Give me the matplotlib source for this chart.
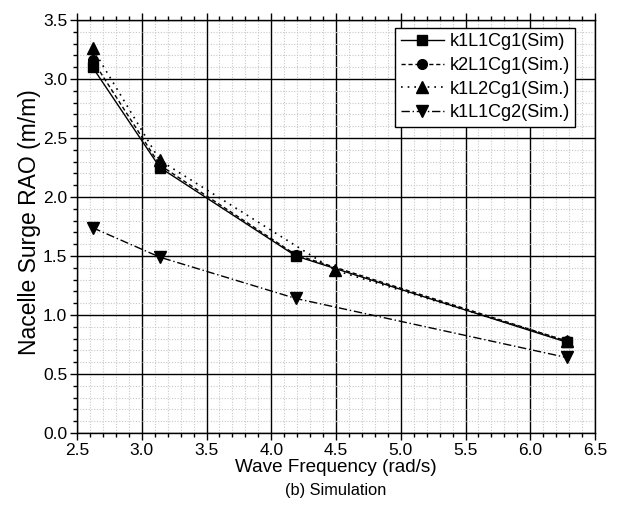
import numpy as np
import matplotlib
matplotlib.use("Agg")
import matplotlib.pyplot as plt
from matplotlib.ticker import MultipleLocator, FormatStrFormatter, FixedLocator

plt.rcParams['font.family'] = ['Liberation Sans', 'DejaVu Sans']

freq_a = [2.62, 3.14, 4.19, 6.28]
sim_k1L1Cg1 = [3.10, 2.25, 1.50, 0.77]
sim_k2L1Cg1 = [3.16, 2.27, 1.51, 0.78]
freq_b = [2.62, 3.14, 4.49, 6.28]
sim_k1L2Cg1 = [3.26, 2.31, 1.38, 0.78]
sim_k1L1Cg2 = [1.74, 1.49, 1.14, 0.64]

labels = ["k1L1Cg1(Sim)", "k2L1Cg1(Sim.)", "k1L2Cg1(Sim.)", "k1L1Cg2(Sim.)"]

W, H = 617, 522
fig = plt.figure(figsize=(W / 100, H / 100), dpi=100)
ax = fig.add_axes([77 / W, 1 - 433 / H, (595 - 77) / W, (433 - 20) / H])

ms = 7
ax.plot(freq_a, sim_k1L1Cg1, color='black', ls='-', lw=1, marker='s', ms=ms, label=labels[0])
ax.plot(freq_a, sim_k2L1Cg1, color='black', ls=(0, (3, 2)), lw=1, marker='o', ms=ms, label=labels[1])
ax.plot(freq_b, sim_k1L2Cg1, color='black', ls=(0, (1, 3)), lw=1.2, marker='^', ms=ms + 1, label=labels[2])
ax.plot(freq_a, sim_k1L1Cg2, color='black', ls=(0, (6, 2, 1, 2)), lw=1, marker='v', ms=ms + 1, label=labels[3])

ax.set_xlim(2.5, 6.5)
ax.set_ylim(0.0, 3.5)


def minor_positions(lo, hi):
    vals = np.round(np.arange(lo, hi + 1e-9, 0.1), 2)
    return [v for v in vals if abs(v / 0.5 - round(v / 0.5)) > 1e-6]


ax.xaxis.set_major_locator(MultipleLocator(0.5))
ax.xaxis.set_minor_locator(FixedLocator(minor_positions(2.5, 6.5)))
ax.yaxis.set_major_locator(MultipleLocator(0.5))
ax.yaxis.set_minor_locator(FixedLocator(minor_positions(0.0, 3.5)))
ax.xaxis.set_major_formatter(FormatStrFormatter('%.1f'))
ax.yaxis.set_major_formatter(FormatStrFormatter('%.1f'))

ax.grid(which='minor', color='#c8c8c8', lw=0.8, ls=(0, (1, 1.5)))
ax.grid(which='major', color='black', lw=1, ls='-')
ax.set_axisbelow(True)

ax.tick_params(which='both', direction='out', top=True, right=False, labelsize=12.5, width=1)
ax.tick_params(which='major', length=5, pad=2)
ax.tick_params(which='minor', length=3)
for s in ax.spines.values():
    s.set_linewidth(1)

ax.set_xlabel("Wave Frequency (rad/s)", fontsize=13.6)
ax.set_ylabel("Nacelle Surge RAO (m/m)", fontsize=16.5)
ax.xaxis.set_label_coords(336 / W, 1 - 467 / H, transform=fig.transFigure)
ax.xaxis.label.set_va('center')
ax.yaxis.set_label_coords(30 / W, 1 - 222 / H, transform=fig.transFigure)
ax.yaxis.label.set_va('center')
fig.text(336 / W, 1 - 490 / H, "(b) Simulation", ha='center', va='center', fontsize=11.8)

leg = ax.legend(loc='upper right', bbox_to_anchor=(575 / W, 1 - 28 / H), bbox_transform=fig.transFigure,
                fontsize=13, frameon=True, fancybox=False, edgecolor='black', framealpha=1,
                handlelength=2.4, handletextpad=0.3, borderpad=0.3, labelspacing=0.37, borderaxespad=0)
leg.get_frame().set_linewidth(1)

fig.savefig("out.png", dpi=100)
